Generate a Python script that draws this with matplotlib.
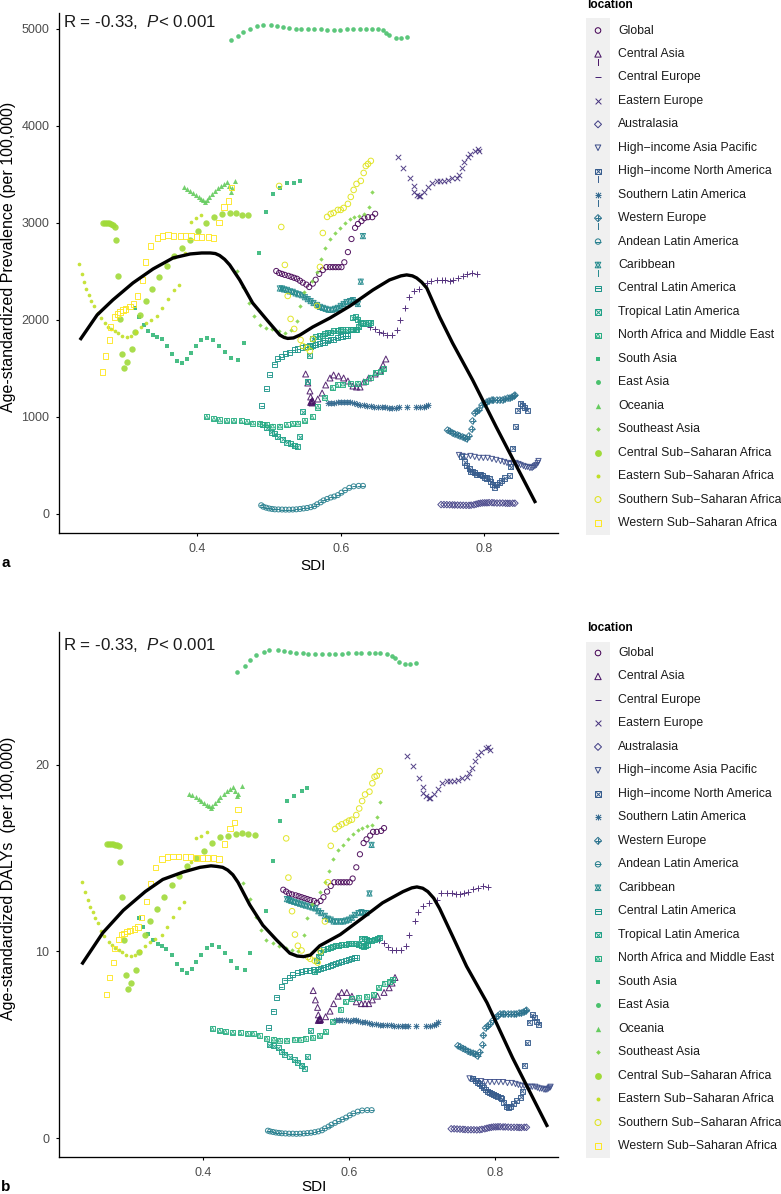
import numpy as np
import matplotlib
matplotlib.use('Agg')
import matplotlib.pyplot as plt

plt.rcParams['font.family'] = ['Liberation Sans', 'DejaVu Sans']
plt.rcParams['mathtext.fontset'] = 'custom'
plt.rcParams['mathtext.it'] = 'Liberation Sans:italic'
plt.rcParams['mathtext.rm'] = 'Liberation Sans'

locations = ['Global', 'Central Asia', 'Central Europe', 'Eastern Europe', 'Australasia',
             'High\u2212income Asia Pacific', 'High\u2212income North America',
             'Southern Latin America', 'Western Europe', 'Andean Latin America', 'Caribbean',
             'Central Latin America', 'Tropical Latin America', 'North Africa and Middle East',
             'South Asia', 'East Asia', 'Oceania', 'Southeast Asia', 'Central Sub\u2212Saharan Africa',
             'Eastern Sub\u2212Saharan Africa', 'Southern Sub\u2212Saharan Africa',
             'Western Sub\u2212Saharan Africa']

##### values ##############################
global_sdi = [.510,.514,.518,.522,.527,.531,.535,.539,.543,.547,.552,.556,.561,.565,.570,.575,.580,.585,.589,.593,.597,.601,.605,.610,.615,.620,.624,.629,.633,.638,.644,.648]
global_prev = [2500,2480,2470,2460,2450,2440,2430,2420,2400,2380,2360,2335,2370,2410,2470,2510,2540,2540,2540,2540,2540,2540,2590,2695,2830,2945,2985,3015,3045,3055,3055,3090]
global_daly = [13.3,13.2,13.1,13.05,13.0,12.95,12.9,12.85,12.8,12.75,12.7,12.6,12.7,12.9,13.2,13.5,13.7,13.7,13.7,13.7,13.7,13.7,13.9,14.5,15.2,15.8,16.0,16.2,16.4,16.4,16.45,16.6]

casia_sdi = [.551,.554,.557,.558,.560,.558,.559,.561,.560,.568,.574,.579,.585,.590,.597,.604,.610,.617,.622,.627,.632,.639,.648,.655,.659,.663]
casia_prev = [1438,1345,1263,1201,1139,1145,1150,1155,1165,1180,1242,1325,1397,1428,1418,1397,1366,1314,1304,1304,1356,1397,1438,1469,1531,1593]
casia_daly = [7.9,7.4,7.0,6.6,6.3,6.3,6.35,6.35,6.4,6.5,6.8,7.2,7.6,7.8,7.8,7.6,7.3,7.2,7.2,7.2,7.4,7.6,7.8,8.05,8.3,8.6]

ceu_sdi = [.641,.648,.653,.659,.665,.671,.678,.682,.690,.695,.702,.709,.720,.726,.734,.741,.746,.752,.757,.763,.770,.776,.783,.790]
ceu_prev = [1923,1902,1871,1861,1840,1840,1892,1995,2119,2232,2294,2315,2376,2397,2408,2408,2408,2397,2408,2428,2449,2470,2480,2470]
ceu_daly = [10.6,10.45,10.25,10.1,10.05,10.05,10.3,10.85,11.6,12.1,12.45,12.6,12.75,13.1,13.1,13.1,13.05,13.05,13.1,13.2,13.35,13.4,13.5,13.45]

eeu_sdi = [.680,.687,.696,.702,.702,.706,.709,.711,.716,.722,.727,.734,.738,.744,.749,.755,.762,.765,.769,.772,.777,.781,.787,.791,.793]
eeu_prev = [3676,3563,3460,3377,3315,3284,3274,3274,3315,3367,3408,3429,3429,3429,3439,3460,3460,3490,3563,3624,3676,3707,3738,3758,3738]
eeu_daly = [20.45,19.9,19.3,18.8,18.5,18.3,18.2,18.2,18.4,18.7,19.0,19.1,19.1,19.1,19.2,19.3,19.35,19.55,19.8,20.2,20.5,20.7,20.9,20.95,20.8]

aus_sdi = [.740,.744,.748,.752,.756,.759,.763,.767,.771,.775,.779,.782,.786,.789,.792,.795,.798,.801,.804,.807,.811,.814,.818,.822,.826,.830,.833,.836,.840,.843]
aus_prev = [92,92,91,90,89,88,87,86,85,84,84,86,90,96,102,106,109,110,110,112,112,110,108,108,108,106,105,105,106,106]
aus_daly = [.50,.50,.49,.48,.47,.46,.45,.45,.45,.44,.45,.47,.50,.53,.56,.58,.60,.60,.61,.61,.60,.60,.59,.58,.58,.58,.57,.57,.58,.58]

hiap_sdi = [.765,.770,.775,.781,.787,.793,.799,.805,.811,.817,.823,.828,.832,.836,.840,.844,.848,.851,.855,.858,.861,.864,.867,.869,.871,.873,.875,.876]
hiap_prev = [603,593,583,593,583,573,573,573,562,552,541,531,521,510,521,521,510,500,490,480,480,469,469,480,490,500,521,541]
hiap_daly = [3.2,3.15,3.05,3.05,3.0,3.0,3.0,3.0,3.0,2.95,2.95,2.9,2.85,2.8,2.8,2.75,2.75,2.75,2.75,2.7,2.65,2.65,2.6,2.6,2.6,2.65,2.7,2.75]

hina_sdi = [.769,.773,.776,.779,.781,.784,.787,.790,.793,.795,.798,.801,.804,.807,.809,.812,.815,.818,.821,.825,.829,.835,.837,.840,.844,.847,.851,.854,.857,.860]
hina_prev = [583,531,490,459,438,428,418,407,397,397,387,376,366,356,325,294,273,294,315,345,366,387,480,675,892,1067,1139,1118,1088,1067]
hina_daly = [3.2,3.1,3.0,2.9,2.8,2.7,2.6,2.5,2.45,2.4,2.35,2.3,2.25,2.2,2.1,1.9,1.7,1.65,1.7,1.85,2.0,2.2,2.5,3.9,5.1,6.2,6.6,6.45,6.25,6.1]

sla_sdi = [.582,.586,.591,.596,.601,.605,.609,.613,.618,.622,.627,.632,.637,.642,.647,.652,.657,.662,.667,.672,.677,.681,.692,.705,.711,.716,.719,.722]
sla_prev = [1135,1140,1140,1145,1150,1150,1150,1145,1135,1125,1120,1115,1110,1105,1100,1100,1095,1095,1090,1090,1090,1095,1095,1095,1095,1100,1110,1120]
sla_daly = [6.3,6.3,6.3,6.3,6.25,6.3,6.3,6.25,6.2,6.2,6.15,6.1,6.1,6.05,6.05,6.05,6.05,6.0,6.0,6.0,6.0,6.0,6.0,6.0,6.0,6.05,6.1,6.2]

weu_sdi = [.749,.752,.756,.759,.763,.766,.770,.773,.776,.779,.783,.784,.787,.790,.793,.797,.801,.804,.807,.811,.813,.818,.822,.826,.829,.833,.836,.839,.842,.843]
weu_prev = [860,850,830,820,810,800,790,780,770,800,870,955,1035,1055,1067,1118,1129,1150,1160,1170,1170,1170,1170,1170,1180,1190,1190,1200,1211,1221]
weu_daly = [4.95,4.9,4.8,4.75,4.65,4.6,4.55,4.5,4.4,4.6,5.0,5.5,5.9,6.0,6.1,6.3,6.45,6.55,6.65,6.65,6.65,6.65,6.65,6.65,6.65,6.7,6.7,6.75,6.8,6.85]

andean_sdi = [.489,.492,.496,.500,.504,.508,.513,.518,.523,.528,.533,.538,.543,.548,.553,.558,.563,.567,.572,.576,.581,.586,.591,.596,.601,.606,.612,.618,.625,.631]
andean_prev = [85,70,60,52,47,43,42,41,40,40,41,43,47,52,57,65,75,95,115,135,150,165,175,190,215,240,265,280,285,285]
andean_daly = [.40,.36,.33,.30,.28,.26,.25,.24,.24,.23,.24,.25,.27,.29,.32,.36,.42,.52,.62,.72,.82,.92,1.0,1.1,1.22,1.32,1.42,1.48,1.5,1.5]

carib_sdi = [.515,.518,.521,.525,.529,.533,.537,.541,.546,.550,.554,.558,.562,.567,.571,.575,.579,.583,.588,.592,.596,.600,.604,.608,.613,.617,.621,.624,.628,.631]
carib_prev = [2320,2320,2310,2305,2290,2285,2270,2260,2250,2230,2210,2190,2170,2150,2130,2120,2110,2100,2100,2110,2120,2140,2160,2180,2190,2200,2180,2160,2390,2860]
carib_daly = [12.8,12.75,12.7,12.65,12.6,12.55,12.5,12.45,12.4,12.35,12.3,12.15,12.05,11.9,11.75,11.7,11.6,11.6,11.6,11.6,11.65,11.7,11.8,11.95,12.05,12.1,12.05,12.05,13.1,15.7]

cla_sdi = [.490,.496,.501,.507,.512,.518,.523,.529,.535,.540,.546,.551,.557,.561,.565,.570,.574,.578,.582,.586,.590,.595,.599,.603,.607,.610]
cla_prev = [1109,1284,1428,1541,1593,1614,1645,1665,1686,1696,1707,1717,1727,1733,1738,1748,1758,1768,1779,1789,1799,1810,1820,1830,1835,1835]
cla_daly = [5.9,6.8,7.55,8.1,8.45,8.6,8.75,8.85,8.9,8.95,9.0,9.05,9.05,9.1,9.15,9.2,9.25,9.3,9.35,9.4,9.45,9.5,9.55,9.6,9.65,9.65]

tla_sdi = [.491,.497,.503,.508,.512,.519,.525,.530,.535,.539,.543,.547,.553,.556,.558,.561,.565,.570,.574,.578,.582,.586,.590,.595,.599,.603,.609,.613,.617,.620,.622,.625,.617,.621,.624,.627,.631,.635,.639,.642]
tla_prev = [913,882,840,820,789,768,737,717,696,686,789,1047,1366,1634,1717,1800,1820,1830,1840,1851,1861,1871,1882,1882,1892,1892,1892,1892,1892,1892,1902,1923,2016,2026,1995,1974,1954,1964,1964,1974]
tla_daly = [5.0,4.95,4.85,4.65,4.5,4.35,4.2,4.05,3.9,3.75,4.35,5.75,8.9,9.5,9.75,9.95,10.1,10.15,10.2,10.25,10.3,10.3,10.35,10.35,10.4,10.4,10.4,10.35,10.3,10.25,10.3,10.35,10.7,10.7,10.65,10.6,10.6,10.65,10.7,10.75]

name_sdi = [.413,.423,.431,.441,.451,.461,.469,.477,.487,.497,.505,.515,.525,.533,.540,.550,.560,.568,.578,.588,.595,.603,.613,.624,.634,.641,.648,.655,.660]
name_prev = [995,975,964,954,954,954,944,933,933,913,902,902,913,923,933,954,995,1098,1201,1294,1325,1335,1345,1345,1356,1407,1449,1469,1490]
name_daly = [5.85,5.75,5.7,5.65,5.65,5.6,5.6,5.5,5.35,5.3,5.25,5.25,5.3,5.3,5.35,5.4,5.5,5.7,6.25,6.9,7.3,7.5,7.55,7.6,7.7,8.05,8.3,8.4,8.5]

sasia_sdi = [.313,.318,.325,.331,.338,.344,.350,.358,.365,.372,.378,.385,.391,.398,.405,.413,.422,.430,.438,.447,.457,.465,.486,.496,.505,.515,.525,.535,.543]
sasia_prev = [2119,2026,1944,1882,1840,1820,1799,1727,1645,1572,1552,1593,1655,1727,1789,1810,1789,1727,1665,1603,1583,1758,2686,3109,3295,3357,3408,3408,3429]
sasia_daly = [11.8,11.3,10.95,10.6,10.4,10.3,10.15,9.8,9.35,9.0,8.85,9.05,9.45,9.8,10.2,10.35,10.25,9.9,9.5,9.1,9.0,9.9,12.15,14.85,17.0,18.05,18.3,18.6,18.75]

easia_sdi = [.447,.457,.464,.473,.483,.491,.503,.511,.519,.528,.537,.544,.554,.563,.572,.581,.590,.599,.609,.617,.627,.635,.643,.652,.659,.663,.668,.677,.684,.692]
easia_prev = [4883,4924,4965,4996,5027,5037,5037,5027,5017,5006,4996,4996,4990,4990,4990,4985,4985,4985,4990,4990,4990,4990,4990,4990,4985,4950,4930,4905,4900,4915]
easia_daly = [24.95,25.3,25.6,25.85,26.05,26.15,26.15,26.1,26.05,26.0,25.95,25.9,25.9,25.9,25.9,25.9,25.9,25.95,25.95,25.95,25.95,25.95,25.95,25.9,25.8,25.7,25.5,25.4,25.4,25.45]

oceania_sdi = [.381,.385,.390,.394,.398,.402,.405,.408,.411,.413,.416,.420,.424,.429,.433,.437,.441,.444,.447,.448,.453]
oceania_prev = [3367,3347,3326,3305,3285,3264,3243,3233,3212,3233,3264,3295,3326,3357,3377,3398,3419,3377,3315,3357,3429]
oceania_daly = [18.45,18.35,18.25,18.15,18.05,17.95,17.85,17.8,17.7,17.8,17.95,18.1,18.25,18.45,18.6,18.7,18.8,18.6,18.3,18.4,18.85]

seasia_sdi = [.455,.464,.472,.479,.487,.496,.504,.514,.522,.530,.539,.543,.549,.560,.567,.572,.578,.585,.592,.599,.606,.613,.618,.625,.632,.639,.643]
seasia_prev = [2500,2336,2171,2037,1944,1913,1903,1882,1861,1892,1985,2140,2284,2397,2490,2624,2738,2830,2892,2944,2995,3037,3058,3068,3089,3160,3315]
seasia_daly = [13.65,12.8,11.85,11.15,10.6,10.45,10.3,10.2,10.05,10.0,10.9,11.8,12.55,13.2,13.7,14.3,14.95,15.45,15.7,16.0,16.3,16.5,16.6,16.7,16.75,17.2,18.0]

cssa_sdi = [.268,.271,.274,.277,.279,.282,.285,.286,.289,.292,.295,.298,.302,.309,.313,.320,.328,.337,.346,.358,.367,.378,.390,.401,.412,.423,.434,.445,.454,.462,.471]
cssa_prev = [2996,2996,2996,2996,2985,2975,2954,2820,2449,2006,1645,1500,1562,1696,1871,2047,2191,2315,2439,2552,2655,2738,2820,2913,2996,3058,3089,3099,3099,3078,3078]
cssa_daly = [15.75,15.75,15.75,15.75,15.7,15.7,15.65,14.8,12.9,10.6,8.75,8.0,8.3,9.0,9.95,10.9,11.65,12.25,12.9,13.55,14.05,14.55,15.0,15.4,15.8,16.1,16.2,16.3,16.35,16.3,16.25]

essa_sdi = [.235,.239,.242,.245,.249,.252,.256,.261,.265,.271,.275,.279,.285,.289,.295,.302,.307,.314,.321,.328,.335,.344,.351,.359,.367,.374,.383,.391,.398,.405]
essa_prev = [2572,2470,2387,2315,2253,2191,2140,2068,2016,1964,1923,1903,1882,1861,1830,1820,1830,1871,1923,1964,1995,2037,2119,2212,2305,2356,2686,3006,3047,3078]
essa_daly = [13.7,13.2,12.75,12.4,12.1,11.8,11.5,11.1,10.8,10.5,10.35,10.2,10.1,9.95,9.8,9.75,9.8,10.0,10.3,10.5,10.65,10.9,11.3,11.85,12.3,12.65,14.8,16.05,16.2,16.4]

sssa_sdi = [.514,.517,.522,.526,.530,.535,.544,.547,.553,.557,.561,.567,.571,.575,.581,.586,.590,.596,.600,.604,.610,.614,.618,.622,.628,.632,.635,.638,.642]
sssa_prev = [3377,2954,2563,2243,2006,1903,1789,1727,1707,1676,1799,2140,2542,2892,3058,3089,3099,3130,3130,3150,3192,3264,3336,3398,3429,3511,3583,3604,3635]
sssa_daly = [16.05,13.95,12.15,10.9,10.3,10.05,9.7,9.6,9.5,9.4,10.0,11.6,13.7,15.65,16.55,16.7,16.8,16.9,17.0,17.05,17.3,17.65,18.05,18.4,18.55,19.0,19.35,19.4,19.65]

wssa_sdi = [.268,.272,.277,.279,.284,.288,.292,.296,.300,.306,.311,.316,.323,.328,.335,.344,.351,.359,.367,.376,.383,.391,.399,.406,.415,.422,.430,.437,.443,.448]
wssa_prev = [1459,1624,1789,1923,2026,2057,2078,2099,2109,2130,2160,2243,2408,2593,2758,2841,2861,2871,2861,2861,2861,2861,2851,2851,2851,2841,2996,3160,3222,3357]
wssa_daly = [7.7,8.6,9.4,10.15,10.65,10.9,10.95,11.05,11.1,11.2,11.3,11.8,12.65,13.65,14.5,14.95,15.05,15.1,15.1,15.05,15.05,15.0,15.0,15.0,15.0,14.95,15.75,16.6,16.9,17.6]

# smooth curve
smooth_a_sdi = [.236,.260,.282,.310,.338,.366,.390,.406,.418,.425,.431,.438,.445,.459,.477,.497,.515,.521,.526,.534,.543,.561,.585,.613,.645,.668,.684,.692,.700,.706,.713,.720,.738,.756,.784,.817,.872]
smooth_a_val = [1789,2047,2202,2377,2521,2635,2676,2686,2686,2680,2660,2620,2563,2408,2171,1995,1840,1815,1805,1810,1840,1923,2016,2140,2305,2408,2450,2460,2450,2428,2385,2325,2026,1758,1377,892,108]
smooth_b_sdi = [.234,.263,.291,.321,.345,.373,.396,.411,.419,.427,.434,.441,.448,.464,.482,.501,.519,.529,.538,.547,.560,.588,.619,.646,.674,.686,.693,.701,.708,.716,.724,.742,.761,.789,.824,.872]
smooth_b_val = [9.3,11.0,12.2,13.2,13.85,14.25,14.5,14.58,14.55,14.5,14.35,14.1,13.7,12.5,11.4,10.6,9.9,9.75,9.72,9.8,10.3,10.9,11.8,12.6,13.2,13.4,13.45,13.38,13.2,12.85,12.3,10.8,9.2,7.25,4.3,0.6]

x_ticks = [0.4, 0.6, 0.8]
a_ticks = [0, 1000, 2000, 3000, 4000, 5000]
b_ticks = [0, 10, 20]

all_sdi = [global_sdi, casia_sdi, ceu_sdi, eeu_sdi, aus_sdi, hiap_sdi, hina_sdi, sla_sdi, weu_sdi, andean_sdi, carib_sdi,
           cla_sdi, tla_sdi, name_sdi, sasia_sdi, easia_sdi, oceania_sdi, seasia_sdi, cssa_sdi, essa_sdi, sssa_sdi, wssa_sdi]
all_prev = [global_prev, casia_prev, ceu_prev, eeu_prev, aus_prev, hiap_prev, hina_prev, sla_prev, weu_prev, andean_prev, carib_prev,
            cla_prev, tla_prev, name_prev, sasia_prev, easia_prev, oceania_prev, seasia_prev, cssa_prev, essa_prev, sssa_prev, wssa_prev]
all_daly = [global_daly, casia_daly, ceu_daly, eeu_daly, aus_daly, hiap_daly, hina_daly, sla_daly, weu_daly, andean_daly, carib_daly,
            cla_daly, tla_daly, name_daly, sasia_daly, easia_daly, oceania_daly, seasia_daly, cssa_daly, essa_daly, sssa_daly, wssa_daly]

# ggplot shapes 1-22 built from matplotlib markers: (marker, filled, size)
shapes = [
    [('o', False, 14)], [('^', False, 18)], [('+', False, 24)], [('x', False, 15)], [('D', False, 11)], [('v', False, 14)],
    [('s', False, 13), ('x', False, 9)], [('x', False, 12), ('+', False, 17)], [('D', False, 11), ('+', False, 14)],
    [('o', False, 13), ('_', False, 12)], [('^', False, 14), ('v', False, 14)], [('s', False, 13), ('_', False, 12)],
    [('s', False, 13), ('x', False, 9)], [('s', False, 13), ('^', False, 7)],
    [('s', True, 11)], [('o', True, 11)], [('^', True, 13)], [('D', True, 5)], [('o', True, 21)], [('o', True, 7)],
    [('o', False, 16)], [('s', False, 14)],
]
colors = plt.cm.viridis(np.linspace(0, 1, len(locations)))


def put_marks(ax, x, y, shape, color, alpha=0.9):
    for marker, filled, size in shape:
        if filled:
            ax.scatter(x, y, marker=marker, s=size, c=[color], linewidths=0, alpha=alpha, zorder=2)
        elif marker in ('+', 'x', '_'):
            ax.scatter(x, y, marker=marker, s=size, c=[color], linewidths=0.72, alpha=alpha, zorder=2)
        else:
            ax.scatter(x, y, marker=marker, s=size, facecolors='none', edgecolors=[color], linewidths=0.72, alpha=alpha, zorder=2)


W, H = 781.0, 1194.0
fig = plt.figure(figsize=(W / 100, H / 100), dpi=100)


def make_panel(top, bottom, xlim, ylim, yticks, values, smooth_x, smooth_y):
    ax = fig.add_axes([59 / W, 1 - bottom / H, (558 - 59) / W, (bottom - top) / H])
    for i in range(len(locations)):
        put_marks(ax, all_sdi[i], values[i], shapes[i], colors[i])
    ax.plot(smooth_x, smooth_y, color='black', lw=2.4, zorder=3, solid_capstyle='butt')
    ax.set_xlim(*xlim)
    ax.set_ylim(*ylim)
    ax.set_xticks(x_ticks)
    ax.set_yticks(yticks)
    ax.spines['top'].set_visible(False)
    ax.spines['right'].set_visible(False)
    ax.spines['left'].set_linewidth(0.95)
    ax.spines['bottom'].set_linewidth(0.95)
    ax.tick_params(length=2, width=0.8, labelsize=9, labelcolor='#4d4d4d', pad=5)
    return ax


ax_a = make_panel(13, 533, (0.2068, 0.9032), (-201, 5160), a_ticks, all_prev, smooth_a_sdi, smooth_a_val)
ax_b = make_panel(632, 1157, (0.2029, 0.8862), (-1.01, 27.1), b_ticks, all_daly, smooth_b_sdi, smooth_b_val)

# overlay in figure pixels for legends and loose text
lax = fig.add_axes([0, 0, 1, 1], zorder=5)
lax.set_xlim(0, W)
lax.set_ylim(H, 0)
lax.axis('off')

stats_label = r'R = -0.33,  $\mathit{P}$< 0.001'
lax.text(63, 22, stats_label, fontsize=12.2, va='center', color='#1a1a1a')
lax.text(63, 645, stats_label, fontsize=12.2, va='center', color='#1a1a1a')
lax.text(9, 257, 'Age-standardized Prevalence (per 100,000)', fontsize=11.5, rotation=90, ha='center', va='center')
lax.text(9, 878, 'Age-standardized DALYs  (per 100,000)', fontsize=11.5, rotation=90, ha='center', va='center')
lax.text(313, 566, 'SDI', fontsize=11, ha='center', va='center')
lax.text(314, 1187, 'SDI', fontsize=11, ha='center', va='center')
lax.text(1, 563, 'a', fontsize=11, fontweight='bold', va='center')
lax.text(1, 1187, 'b', fontsize=11, fontweight='bold', va='center')


def make_legend(y_title, y_first, y_last, key_top, key_bottom):
    lax.text(587, y_title, 'location', fontsize=8.6, fontweight='bold', va='center')
    lax.add_patch(plt.Rectangle((586, key_top), 24, key_bottom - key_top, color='#f0f0f0', lw=0, zorder=0))
    ys = np.linspace(y_first, y_last, len(locations))
    for i, name in enumerate(locations):
        # the plus of Central Europe only shows its bar in the key
        shape = [('_', False, 22)] if i == 2 else [(m, f, s * 1.15) for m, f, s in shapes[i]]
        put_marks(lax, [598], [ys[i]], shape, colors[i], alpha=1)
        lax.text(618, ys[i], name, fontsize=8.85, va='center', color='#1a1a1a')
    return ys


ys_a = make_legend(5, 30.5, 523, 18, 535)
ys_b = make_legend(628, 653, 1146, 642, 1158)

# stray vertical bars in the upper key
for i in (1, 6, 7, 8, 10):
    lax.plot([598, 598], [ys_a[i] + 5, ys_a[i] + 11], color=colors[i], lw=0.7)

fig.savefig('out.png', dpi=100)
